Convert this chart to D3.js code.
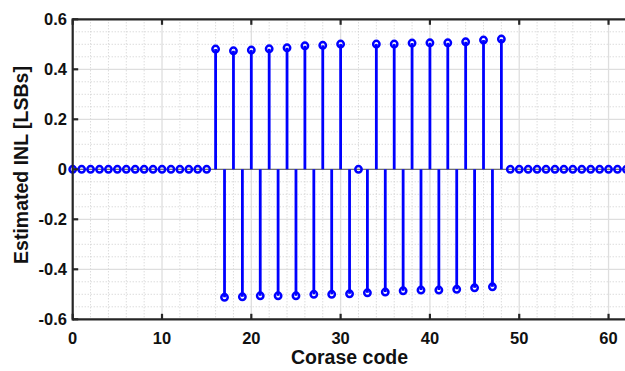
<!DOCTYPE html>
<html>
<head>
<meta charset="utf-8">
<script src="https://cdn.jsdelivr.net/npm/d3@7/dist/d3.min.js"></script>
<style>
  html, body { margin: 0; padding: 0; background: #fff; }
  svg { display: block; font-family: "Liberation Sans", Arial, sans-serif; }
</style>
</head>
<body>
<svg id="chart" width="625" height="371"></svg>
<script>
// Estimated INL per coarse code (code = array index)
const inl = [
  0, 0, 0, 0, 0, 0, 0, 0, 0, 0, 0, 0, 0, 0, 0, 0,
  0.481, -0.512, 0.474, -0.510, 0.477, -0.506, 0.482, -0.506,
  0.486, -0.506, 0.494, -0.500, 0.496, -0.500, 0.501, -0.498,
  0, -0.494, 0.501, -0.491, 0.501, -0.486, 0.505, -0.483,
  0.506, -0.483, 0.506, -0.480, 0.510, -0.474, 0.517, -0.470,
  0.521,
  0, 0, 0, 0, 0, 0, 0, 0, 0, 0, 0, 0, 0, 0, 0
];
const xTicks = [0, 10, 20, 30, 40, 50, 60];
const yTicks = [-0.6, -0.4, -0.2, 0, 0.2, 0.4, 0.6];
const xMinor = [2, 4, 6, 8, 12, 14, 16, 18, 22, 24, 26, 28, 32, 34, 36, 38, 42, 44, 46, 48, 52, 54, 56, 58, 62];
const yMinor = [-0.55, -0.5, -0.45, -0.35, -0.3, -0.25, -0.15, -0.1, -0.05,
                0.05, 0.1, 0.15, 0.25, 0.3, 0.35, 0.45, 0.5, 0.55];
const xTitle = "Corase code";
const yTitle = "Estimated INL [LSBs]";

const points = inl.map((v, i) => ({ code: i, value: v }));

const svg = d3.select("#chart");
const x = d3.scaleLinear().domain([0, 62]).range([72.7, 626.4]);
const y = d3.scaleLinear().domain([-0.6, 0.6]).range([319.3, 19.3]);
const [x0, x1] = x.range();
const [yb, yt] = y.range();

// minor grid (dotted)
const grid = svg.append("g");
grid.selectAll(".xm").data(xMinor).join("line")
  .attr("x1", d => x(d)).attr("x2", d => x(d)).attr("y1", yt).attr("y2", yb)
  .attr("stroke", "#cccccc").attr("stroke-width", 1).attr("stroke-dasharray", "1,2");
grid.selectAll(".ym").data(yMinor).join("line")
  .attr("x1", x0).attr("x2", x1).attr("y1", d => y(d)).attr("y2", d => y(d))
  .attr("stroke", "#cccccc").attr("stroke-width", 1).attr("stroke-dasharray", "1,2");
// major grid (solid)
grid.selectAll(".xM").data(xTicks).join("line")
  .attr("x1", d => x(d)).attr("x2", d => x(d)).attr("y1", yt).attr("y2", yb)
  .attr("stroke", "#dedede").attr("stroke-width", 1.3);
grid.selectAll(".yM").data(yTicks).join("line")
  .attr("x1", x0).attr("x2", x1).attr("y1", d => y(d)).attr("y2", d => y(d))
  .attr("stroke", "#dedede").attr("stroke-width", 1.3);

// stem baseline
svg.append("line")
  .attr("x1", x0).attr("x2", x1).attr("y1", y(0)).attr("y2", y(0))
  .attr("stroke", "#707070").attr("stroke-width", 1.3);

// stems
svg.append("g").selectAll("line").data(points).join("line")
  .attr("x1", d => x(d.code)).attr("x2", d => x(d.code))
  .attr("y1", y(0)).attr("y2", d => y(d.value))
  .attr("stroke", "#0000ff").attr("stroke-width", 2.8);

// markers
svg.append("g").selectAll("circle").data(points).join("circle")
  .attr("cx", d => x(d.code)).attr("cy", d => y(d.value)).attr("r", 3.2)
  .attr("fill", "none").attr("stroke", "#0000ff").attr("stroke-width", 2.5);

// axes box
const axisColor = "#262626";
const ax = svg.append("g");
ax.append("line").attr("x1", x0).attr("x2", x1).attr("y1", yt).attr("y2", yt)
  .attr("stroke", axisColor).attr("stroke-width", 2.2);
ax.append("line").attr("x1", x0).attr("x2", x1).attr("y1", yb).attr("y2", yb)
  .attr("stroke", axisColor).attr("stroke-width", 2.2);
ax.append("line").attr("x1", x0).attr("x2", x0).attr("y1", yt - 1.1).attr("y2", yb + 1.1)
  .attr("stroke", axisColor).attr("stroke-width", 2.2);

// inward ticks
ax.selectAll(".xtb").data(xTicks).join("line")
  .attr("x1", d => x(d)).attr("x2", d => x(d)).attr("y1", yb).attr("y2", yb - 5.5)
  .attr("stroke", axisColor).attr("stroke-width", 2.2);
ax.selectAll(".xtt").data(xTicks).join("line")
  .attr("x1", d => x(d)).attr("x2", d => x(d)).attr("y1", yt).attr("y2", yt + 5.5)
  .attr("stroke", axisColor).attr("stroke-width", 2.2);
ax.selectAll(".ytl").data(yTicks).join("line")
  .attr("x1", x0).attr("x2", x0 + 5.5).attr("y1", d => y(d)).attr("y2", d => y(d))
  .attr("stroke", axisColor).attr("stroke-width", 2.2);

// tick labels
ax.selectAll(".xl").data(xTicks).join("text")
  .attr("x", d => x(d)).attr("y", 343.5)
  .attr("text-anchor", "middle").attr("font-size", 16.5).attr("font-weight", "bold")
  .attr("fill", "#111").text(d => d);
ax.selectAll(".yl").data(yTicks).join("text")
  .attr("x", 67).attr("y", d => y(d) + 5.7)
  .attr("text-anchor", "end").attr("font-size", 16.5).attr("font-weight", "bold")
  .attr("fill", "#111").text(d => d);

// axis titles
svg.append("text")
  .attr("x", (x0 + x1) / 2).attr("y", 364)
  .attr("text-anchor", "middle").attr("font-size", 19.5).attr("font-weight", "bold")
  .attr("fill", "#111").text(xTitle);
svg.append("text")
  .attr("transform", `translate(28, 165) rotate(-90)`)
  .attr("text-anchor", "middle").attr("font-size", 19.5).attr("font-weight", "bold")
  .attr("fill", "#111").text(yTitle);
</script>
</body>
</html>
